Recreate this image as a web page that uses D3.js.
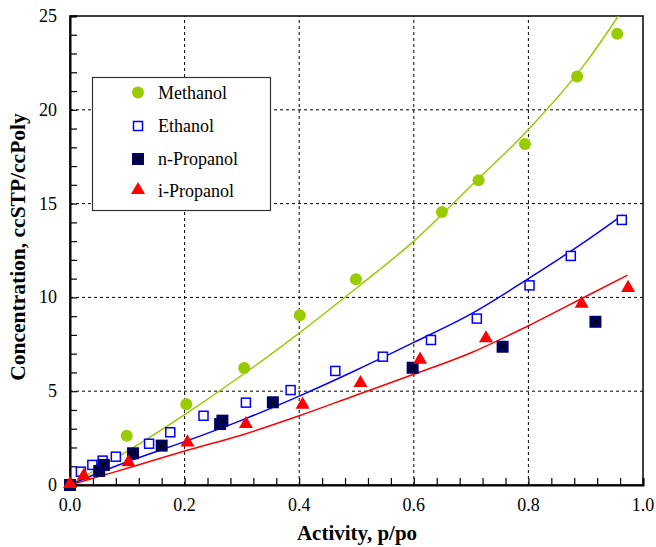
<!DOCTYPE html>
<html>
<head>
<meta charset="utf-8">
<script src="https://cdn.jsdelivr.net/npm/d3@7"></script>
<style>
  body { margin: 0; background: #fff; }
  svg { display: block; }
  text { font-family: "Liberation Serif", "Times New Roman", serif; }
</style>
</head>
<body>
<script>
// measured points (activity, concentration)
var methanol = [[0,0],[0.099,2.62],[0.203,4.3],[0.304,6.24],[0.401,9.05],[0.499,10.97],[0.649,14.55],[0.713,16.24],[0.794,18.18],[0.885,21.77],[0.955,24.06]];
var ethanol = [[0,0],[0.019,0.71],[0.039,1.07],[0.057,1.3],[0.08,1.51],[0.138,2.2],[0.175,2.81],[0.233,3.69],[0.307,4.39],[0.385,5.06],[0.463,6.08],[0.546,6.84],[0.63,7.73],[0.71,8.87],[0.802,10.64],[0.874,12.21],[0.963,14.13]];
var nPropanol = [[0,0],[0.051,0.75],[0.059,1.07],[0.11,1.69],[0.16,2.1],[0.262,3.25],[0.266,3.43],[0.354,4.41],[0.598,6.25],[0.755,7.37],[0.917,8.7]];
var iPropanol = [[0,0],[0.024,0.44],[0.102,1.16],[0.205,2.22],[0.307,3.2],[0.406,4.23],[0.507,5.38],[0.611,6.63],[0.726,7.77],[0.893,9.61],[0.974,10.45]];

// model curves
var fitMethanol = [[0,0],[0.05,0.9],[0.1,1.8],[0.2,3.75],[0.3,5.85],[0.4,8.1],[0.5,10.5],[0.6,13.0],[0.7,15.95],[0.8,18.95],[0.9,22.5],[0.957,25.0]];
var fitEthanol = [[0,0],[0.05,0.65],[0.1,1.24],[0.2,2.31],[0.3,3.46],[0.4,4.74],[0.5,6.13],[0.6,7.6],[0.7,9.12],[0.8,11.0],[0.9,13.0],[0.965,14.4]];
var fitIPropanol = [[0,0],[0.05,0.45],[0.1,0.89],[0.2,1.81],[0.3,2.67],[0.4,3.69],[0.5,4.8],[0.6,5.9],[0.7,7.05],[0.8,8.49],[0.9,10.05],[0.973,11.19]];

var xTicks = [0, 0.2, 0.4, 0.6, 0.8, 1.0];
var yTicks = [0, 5, 10, 15, 20, 25];
var legendNames = ["Methanol", "Ethanol", "n-Propanol", "i-Propanol"];

var green = "#99cc00", blue = "#0000ff", navy = "#000066", red = "#ff0000";
var serif = "'Liberation Serif', 'Times New Roman', serif";

var svg = d3.select("body").append("svg")
    .attr("width", 656)
    .attr("height", 547);

var x = d3.scaleLinear().domain([0, 1]).range([70, 643]);
var y = d3.scaleLinear().domain([0, 25]).range([485, 16]);

// grid
svg.append("g").selectAll("line")
  .data(xTicks.slice(1, -1))
  .enter().append("line")
    .attr("x1", x).attr("x2", x)
    .attr("y1", y(0)).attr("y2", y(25))
    .attr("stroke", "#000").attr("stroke-width", 1)
    .attr("stroke-dasharray", "3,3");
svg.append("g").selectAll("line")
  .data(yTicks.slice(1, -1))
  .enter().append("line")
    .attr("y1", y).attr("y2", y)
    .attr("x1", x(0)).attr("x2", x(1))
    .attr("stroke", "#000").attr("stroke-width", 1)
    .attr("stroke-dasharray", "3,3");

// frame
svg.append("rect")
    .attr("x", x(0)).attr("y", y(25))
    .attr("width", x(1) - x(0)).attr("height", y(0) - y(25))
    .attr("fill", "none").attr("stroke", "#000").attr("stroke-width", 1.5);

// axes, ticks pointing inward
var xAxis = svg.append("g")
    .attr("transform", "translate(0," + y(0) + ")")
    .call(d3.axisTop(x).tickValues(d3.range(0, 1.0001, 0.04)).tickSize(7).tickFormat(""));
var yAxis = svg.append("g")
    .attr("transform", "translate(" + x(0) + ",0)")
    .call(d3.axisRight(y).tickValues(d3.range(0, 25.001, 1)).tickSize(7).tickFormat(""));
[xAxis, yAxis].forEach(function(a) {
  a.select(".domain").attr("stroke-width", 2);
  a.selectAll(".tick line").attr("stroke-width", 1.2);
});

svg.append("g").selectAll("text")
  .data(xTicks)
  .enter().append("text")
    .attr("x", x).attr("y", 511)
    .attr("text-anchor", "middle")
    .attr("font-family", serif)
    .attr("font-size", "18px")
    .text(function(d) { return d.toFixed(1); });

svg.append("g").selectAll("text")
  .data(yTicks)
  .enter().append("text")
    .attr("x", 57).attr("y", function(d) { return y(d) + 6; })
    .attr("text-anchor", "end")
    .attr("font-family", serif)
    .attr("font-size", "18px")
    .text(function(d) { return d; });

// titles
svg.append("text")
    .attr("x", 357).attr("y", 540)
    .attr("text-anchor", "middle")
    .attr("font-family", serif)
    .attr("font-size", "21px").attr("font-weight", "bold")
    .text("Activity, p/po");
svg.append("text")
    .attr("transform", "translate(25,247) rotate(-90)")
    .attr("text-anchor", "middle")
    .attr("font-family", serif)
    .attr("font-size", "21.5px").attr("font-weight", "bold")
    .text("Concentration, ccSTP/ccPoly");

// fitted lines
var line = d3.line().x(function(d) { return x(d[0]); }).y(function(d) { return y(d[1]); }).curve(d3.curveMonotoneX);
[[fitMethanol, green], [fitEthanol, blue], [fitIPropanol, red]].forEach(function(s) {
  svg.append("path").datum(s[0])
    .attr("d", line)
    .attr("fill", "none")
    .attr("stroke", s[1])
    .attr("stroke-width", 1.5);
});

// markers
function drawCircle(g, cx, cy) {
  g.append("circle").attr("cx", cx).attr("cy", cy).attr("r", 6).attr("fill", green);
}
function drawOpenSquare(g, cx, cy) {
  g.append("rect").attr("x", cx - 4.5).attr("y", cy - 4.5).attr("width", 9).attr("height", 9)
    .attr("fill", "#fff").attr("stroke", blue).attr("stroke-width", 1.5);
}
function drawCrossSquare(g, cx, cy) {
  g.append("rect").attr("x", cx - 6).attr("y", cy - 6).attr("width", 12).attr("height", 12).attr("fill", navy);
  g.append("path")
    .attr("d", "M" + (cx - 3.5) + "," + (cy - 3.5) + "L" + (cx + 3.5) + "," + (cy + 3.5) +
               "M" + (cx + 3.5) + "," + (cy - 3.5) + "L" + (cx - 3.5) + "," + (cy + 3.5))
    .attr("stroke", "#000").attr("stroke-width", 1.2);
}
var tri = d3.symbol().type(d3.symbolTriangle).size(85);
function drawTriangle(g, cx, cy) {
  g.append("path").attr("d", tri).attr("transform", "translate(" + cx + "," + (cy - 1) + ")").attr("fill", red);
}

var marks = svg.append("g");
methanol.forEach(function(d) { drawCircle(marks, x(d[0]), y(d[1])); });
ethanol.forEach(function(d) { drawOpenSquare(marks, x(d[0]), y(d[1])); });
nPropanol.forEach(function(d) { drawCrossSquare(marks, x(d[0]), y(d[1])); });
iPropanol.forEach(function(d) { drawTriangle(marks, x(d[0]), y(d[1])); });

// legend
var legend = svg.append("g");
legend.append("rect")
    .attr("x", 92.5).attr("y", 77.5).attr("width", 178).attr("height", 133)
    .attr("fill", "#fff").attr("stroke", "#333").attr("stroke-width", 1.2);
var drawers = [drawCircle, drawOpenSquare, drawCrossSquare, drawTriangle];
var rowY = [92.5, 126, 159, 191];
legendNames.forEach(function(name, i) {
  drawers[i](legend, 138, rowY[i]);
  legend.append("text")
    .attr("x", 158).attr("y", rowY[i] + 6)
    .attr("font-family", serif)
    .attr("font-size", "18px")
    .text(name);
});
</script>
</body>
</html>
